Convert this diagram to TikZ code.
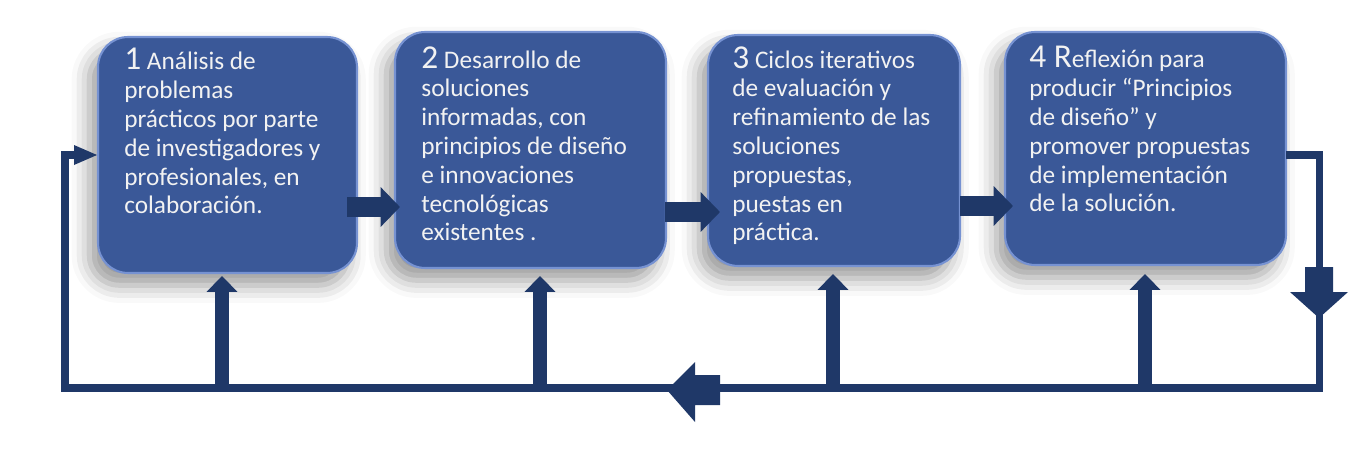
\documentclass[tikz,border=0pt]{standalone}
\usepackage{fontspec}
\setmainfont{Carlito}
\usetikzlibrary{arrows.meta,shadows.blur}
\definecolor{boxblue}{RGB}{58,88,152}
\definecolor{boxedge}{RGB}{118,146,210}
\definecolor{navy}{RGB}{31,56,104}
\definecolor{txtc}{RGB}{242,242,242}
\newcommand{\bignum}[1]{{\fontsize{19}{16.4}\selectfont #1}}
\begin{document}
\begin{tikzpicture}[x=0.02cm,y=-0.02cm,
 stepbox/.style={rounded corners=0.6cm, fill=boxblue, draw=boxedge, line width=1.2pt,
   blur shadow={shadow xshift=-5pt, shadow yshift=-7pt, shadow blur radius=10pt, shadow opacity=40}},
 txt/.style={anchor=north west, inner sep=0pt, align=left, text=txtc, font=\fontsize{14.4}{16.4}\selectfont},
 conn/.style={draw=navy, line width=4pt},
 uparrow/.style={draw=navy, line width=8.5pt, -{Triangle[width=17pt,length=9pt]}},
 fwd/.style={draw=navy, line width=11pt, -{Triangle[width=22pt,length=11pt]}},
 blockarrow/.style={fill=navy}
 ]
\useasboundingbox (0,0) rectangle (1372,460);

% boxes
\node[stepbox, minimum width=5.18cm, minimum height=4.72cm] (b1) at (227.5,155) {};
\node[stepbox, minimum width=5.42cm, minimum height=4.72cm] (b2) at (530.5,150) {};
\node[stepbox, minimum width=5.04cm, minimum height=4.62cm] (b3) at (834,150.5) {};
\node[stepbox, minimum width=5.62cm, minimum height=4.66cm] (b4) at (1145.5,148.5) {};

% texts
\node[txt] (t1) at (124,48) {\bignum{1} Análisis de\\problemas\\prácticos por parte\\de investigadores y\\profesionales, en\\colaboración.};
\node[txt] (t2) at (421,46) {\bignum{2} Desarrollo de\\soluciones\\informadas, con\\principios de diseño\\e innovaciones\\tecnológicas\\existentes .};
\node[txt] (t3) at (732,46) {\bignum{3} Ciclos iterativos\\de evaluación y\\refinamiento de las\\soluciones\\propuestas,\\puestas en\\práctica.};
\node[txt] (t4) at (1029,46) {\bignum{4 R}eflexión para\\producir “Principios\\de diseño” y\\promover propuestas\\de implementación\\de la solución.};

% forward arrows between boxes
\coordinate (f1a) at (347,207); \coordinate (f1b) at (400,207);
\coordinate (f2a) at (665,212); \coordinate (f2b) at (720,212);
\coordinate (f3a) at (960,206); \coordinate (f3b) at (1013,206);
\draw[fwd] (f1a) -- (f1b);
\draw[fwd] (f2a) -- (f2b);
\draw[fwd] (f3a) -- (f3b);

% feedback loop
\coordinate (r0) at (1286,155);
\coordinate (r1) at (1319,155);
\coordinate (r2) at (1319,388);
\coordinate (l2) at (65,388);
\coordinate (l1) at (65,155);
\coordinate (l0) at (97,155);
\draw[conn] (r0) -- (r1) -- (r2) -- (l2) -- (l1) -- (74,155);
\fill[navy] (74,145) -- (l0) -- (74,165) -- cycle;

% up arrows to boxes
\coordinate (u1) at (222,388); \coordinate (u2) at (540,388);
\coordinate (u3) at (833,388); \coordinate (u4) at (1145,388);
\draw[uparrow] (u1) -- (222,276);
\draw[uparrow] (u2) -- (540,276);
\draw[uparrow] (u3) -- (833,274);
\draw[uparrow] (u4) -- (1145,274);

% big down arrow on right
\fill[blockarrow] (1305,267) -- (1333,267) -- (1333,292) -- (1348,292) -- (1319,318) -- (1290,292) -- (1305,292) -- cycle;

% big left arrow on bottom line
\fill[blockarrow] (720,375) -- (720,405) -- (695,405) -- (695,422) -- (667,390) -- (695,362) -- (695,375) -- cycle;
\end{tikzpicture}
\end{document}
